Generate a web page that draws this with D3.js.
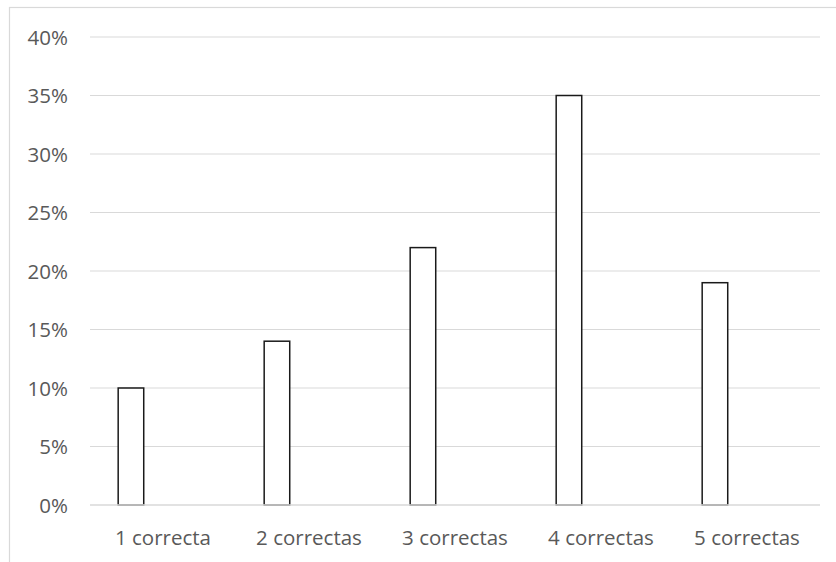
<!DOCTYPE html>
<html><head><meta charset="utf-8">
<script src="https://cdn.jsdelivr.net/npm/d3@7"></script>
<style>body{margin:0;background:#fff}svg{display:block}</style>
</head><body>
<svg id="c" width="836" height="562"></svg>
<script>
const categories = ["1 correcta","2 correctas","3 correctas","4 correctas","5 correctas"];
const values = [0.10, 0.14, 0.22, 0.35, 0.19];
const yTicks = [0, 0.05, 0.10, 0.15, 0.20, 0.25, 0.30, 0.35, 0.40];

(function(){
const svg = d3.select("#c");
const font = "'Open Sans', sans-serif";
const fs = 20.5;
const pLeft = 90, pRight = 820, pTop = 37, pBottom = 505;

svg.append("rect").attr("x",9.5).attr("y",7.5).attr("width",900).attr("height",700)
  .attr("fill","#fff").attr("stroke","#d9d9d9").attr("stroke-width",1.2);

const x = d3.scaleBand().domain(categories).range([pLeft, pRight]).padding(0);
const y = d3.scaleLinear().domain([0, 0.40]).range([pBottom, pTop]);

svg.append("g").selectAll("line").data(yTicks.slice(1)).join("line")
  .attr("x1", pLeft).attr("x2", pRight)
  .attr("y1", d => y(d)).attr("y2", d => y(d))
  .attr("stroke","#d9d9d9").attr("stroke-width",1.2);

svg.append("g").selectAll("text").data(yTicks).join("text")
  .attr("x", 68).attr("y", d => y(d) + 7.5)
  .attr("text-anchor","end").attr("font-family",font).attr("font-size",fs)
  .attr("fill","#595959").text(d => d3.format(".0%")(d));

const bw = x.bandwidth();
svg.append("g").selectAll("rect").data(values).join("rect")
  .attr("x", (d,i) => x(categories[i]) + bw*0.193)
  .attr("width", bw*0.175)
  .attr("y", d => y(d))
  .attr("height", d => y(0) - y(d))
  .attr("fill","#fff").attr("stroke","#1a1a1a").attr("stroke-width",1.5);

svg.append("line").attr("x1",pLeft).attr("x2",pRight).attr("y1",y(0)).attr("y2",y(0))
  .attr("stroke","#d9d9d9").attr("stroke-width",1.5);

svg.append("g").selectAll("text").data(categories).join("text")
  .attr("x", d => x(d) + bw/2).attr("y", 545)
  .attr("text-anchor","middle").attr("font-family",font).attr("font-size",fs)
  .attr("fill","#595959").text(d => d);
})();
</script>
</body></html>
